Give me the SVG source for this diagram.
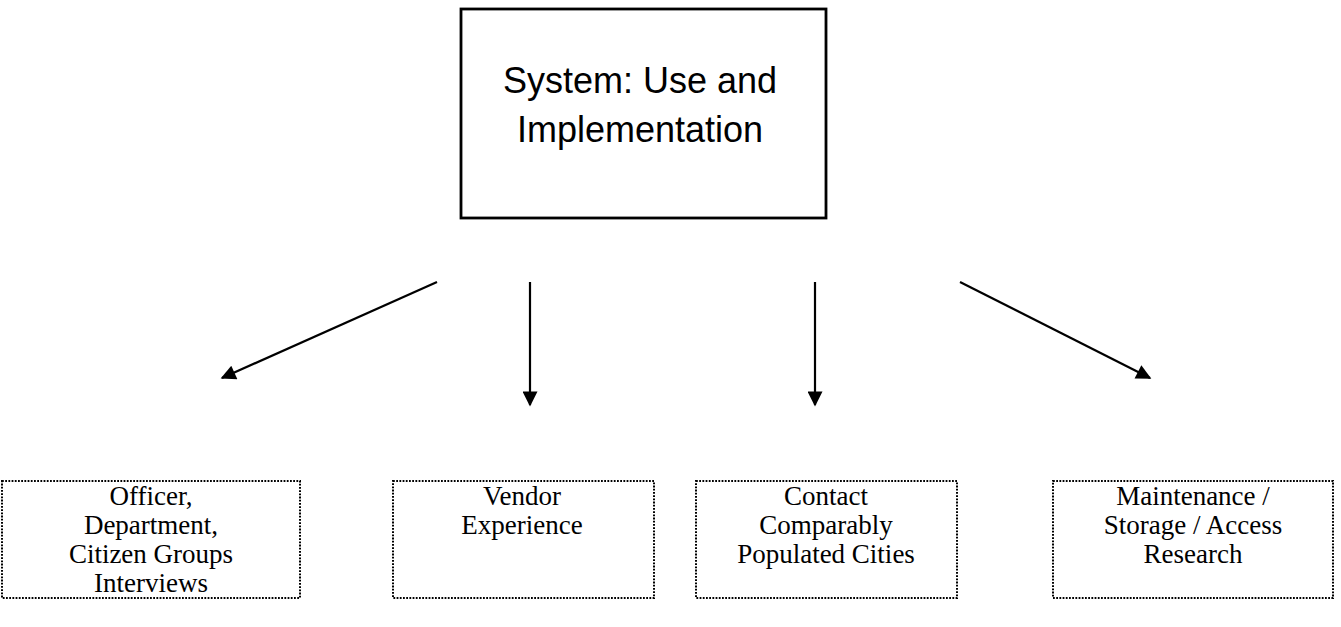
<svg xmlns="http://www.w3.org/2000/svg" width="1341" height="627" viewBox="0 0 1341 627">
  <style>
    .top { fill: #ffffff; stroke: #000000; stroke-width: 2.8; }
    .sub { fill: #ffffff; stroke: #000000; stroke-width: 2; stroke-dasharray: 1.8 1.4; }
    .ttl { font-family: "Liberation Sans", Arial, sans-serif; font-size: 36px; fill: #000000; text-anchor: middle; }
    .lbl { font-family: "Liberation Serif", "Times New Roman", serif; font-size: 27px; fill: #000000; text-anchor: middle; }
    .conn { stroke: #000000; stroke-width: 2.2; fill: none; marker-end: url(#ah); }
  </style>
  <defs>
    <marker id="ah" viewBox="0 0 10 10" refX="9" refY="5" markerWidth="20" markerHeight="15" markerUnits="userSpaceOnUse" orient="auto">
      <path d="M0,0 L10,5 L0,10 z" fill="#000000"/>
    </marker>
  </defs>
  <rect width="1341" height="627" fill="#ffffff"/>

  <g id="node-system">
    <rect class="top" x="461" y="9" width="365" height="209"/>
    <text class="ttl" x="640" y="93">System: Use and</text>
    <text class="ttl" x="640" y="142">Implementation</text>
  </g>

  <g id="connectors">
    <line class="conn" x1="437" y1="282" x2="222" y2="378"/>
    <line class="conn" x1="530" y1="282" x2="530" y2="405"/>
    <line class="conn" x1="815" y1="282" x2="815" y2="405"/>
    <line class="conn" x1="960" y1="282" x2="1150" y2="378"/>
  </g>

  <g id="node-interviews">
    <rect class="sub" x="2" y="481" width="298" height="117"/>
    <text class="lbl" x="151" y="505">Officer,</text>
    <text class="lbl" x="151" y="534">Department,</text>
    <text class="lbl" x="151" y="563">Citizen Groups</text>
    <text class="lbl" x="151" y="592">Interviews</text>
  </g>

  <g id="node-vendor">
    <rect class="sub" x="393" y="481" width="261" height="117"/>
    <text class="lbl" x="522" y="505">Vendor</text>
    <text class="lbl" x="522" y="534">Experience</text>
  </g>

  <g id="node-contact">
    <rect class="sub" x="696" y="481" width="261" height="117"/>
    <text class="lbl" x="826" y="505">Contact</text>
    <text class="lbl" x="826" y="534">Comparably</text>
    <text class="lbl" x="826" y="563">Populated Cities</text>
  </g>

  <g id="node-research">
    <rect class="sub" x="1053" y="481" width="280" height="117"/>
    <text class="lbl" x="1193" y="505">Maintenance /</text>
    <text class="lbl" x="1193" y="534">Storage / Access</text>
    <text class="lbl" x="1193" y="563">Research</text>
  </g>
</svg>
